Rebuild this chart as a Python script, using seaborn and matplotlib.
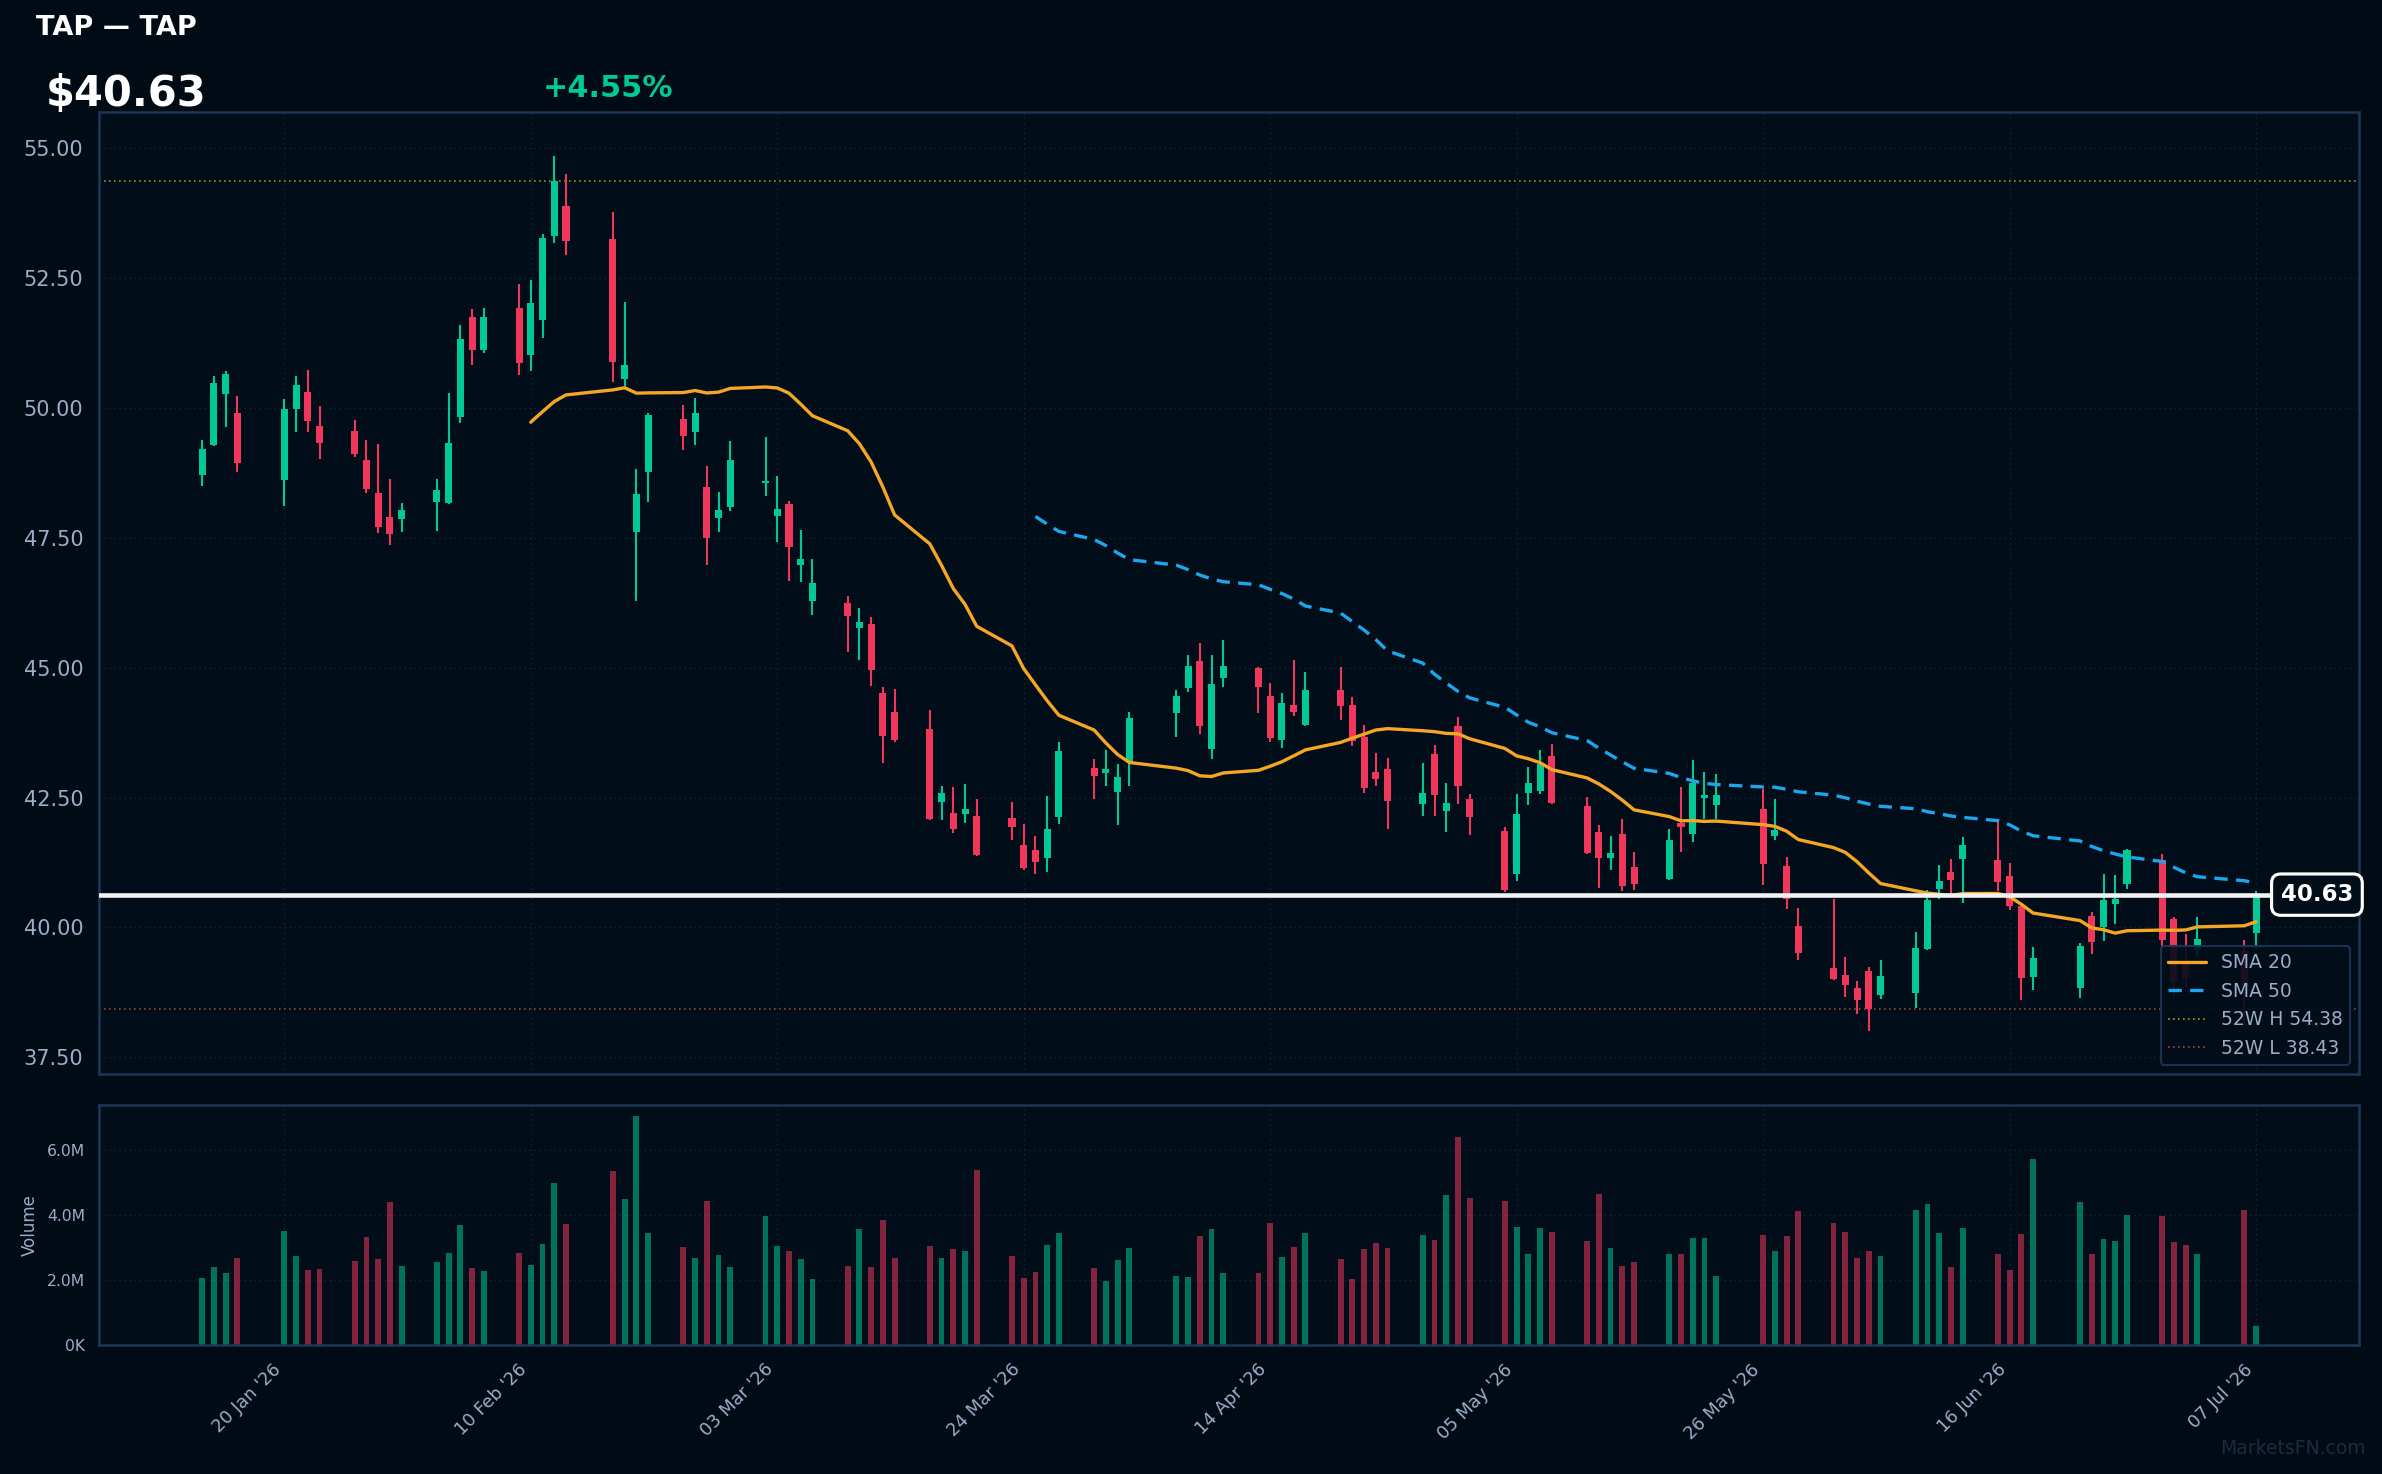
import numpy as np
import pandas as pd
import matplotlib
matplotlib.use('Agg')
import matplotlib.pyplot as plt
import matplotlib.dates as mdates
from matplotlib.lines import Line2D
from matplotlib.ticker import FuncFormatter, MultipleLocator
import seaborn as sns

# trading days (NYSE calendar, holidays skipped)
holidays = ['2026-01-19', '2026-02-16', '2026-04-03', '2026-05-25', '2026-06-19', '2026-07-03']
dates = pd.bdate_range('2026-01-13', '2026-07-07', freq='C', holidays=holidays)

opens = [48.72, 49.29, 50.27, 49.90, 48.62, 49.99, 50.30, 49.65, 49.55, 49.00,
         48.37, 47.90, 47.86, 48.20, 48.18, 49.83, 51.76, 51.12, 51.92, 51.03,
         51.69, 53.32, 53.89, 53.26, 50.56, 47.61, 48.76, 49.78, 49.53, 48.48,
         47.89, 48.10, 48.55, 47.93, 48.15, 46.97, 46.28, 46.24, 45.77, 45.84,
         44.51, 44.15, 43.82, 42.41, 42.21, 42.18, 42.14, 42.11, 41.58, 41.48,
         41.33, 42.12, 43.07, 42.98, 42.60, 43.19, 44.13, 44.61, 45.12, 43.44,
         44.80, 45.00, 44.45, 43.61, 44.29, 43.90, 44.57, 44.28, 43.67, 42.99,
         43.05, 42.37, 43.34, 42.24, 43.88, 42.48, 41.86, 41.03, 42.58, 42.62,
         43.29, 42.33, 41.83, 41.34, 41.79, 41.16, 40.93, 42.01, 41.80, 42.50,
         42.36, 42.28, 41.76, 41.18, 40.02, 39.22, 39.08, 38.83, 39.15, 38.69,
         38.74, 39.59, 40.74, 41.06, 41.32, 41.30, 40.98, 40.41, 39.05, 38.83,
         40.22, 40.01, 40.44, 40.84, 41.30, 40.17, 39.28, 39.56, 39.55, 39.90]
highs = [49.38, 50.61, 50.71, 50.23, 50.17, 50.61, 50.73, 50.03, 49.77, 49.38,
         49.31, 48.64, 48.18, 48.64, 50.29, 51.59, 51.90, 51.92, 52.38, 52.47,
         53.35, 54.85, 54.50, 53.77, 52.04, 48.83, 49.90, 50.05, 50.19, 48.88,
         48.38, 49.36, 49.44, 48.69, 48.21, 47.66, 47.10, 46.39, 46.14, 45.97,
         44.63, 44.59, 44.18, 42.73, 42.71, 42.76, 42.47, 42.42, 41.99, 41.76,
         42.53, 43.57, 43.25, 43.42, 43.15, 44.14, 44.57, 45.24, 45.47, 45.24,
         45.54, 45.02, 44.70, 44.51, 45.14, 44.91, 45.02, 44.43, 43.90, 43.36,
         43.26, 43.17, 43.51, 42.78, 44.05, 42.57, 41.94, 42.57, 43.09, 43.42,
         43.53, 42.51, 41.97, 41.76, 42.08, 41.46, 41.89, 42.70, 43.22, 43.00,
         42.96, 42.66, 42.47, 41.35, 40.37, 40.54, 39.43, 38.97, 39.23, 39.37,
         39.91, 40.71, 41.20, 41.31, 41.74, 42.04, 41.23, 40.42, 39.63, 39.69,
         40.30, 41.03, 41.01, 41.51, 41.41, 40.19, 39.87, 40.19, 39.75, 40.70]
lows = [48.50, 49.27, 49.64, 48.76, 48.12, 49.54, 49.53, 49.01, 49.05, 48.36,
        47.59, 47.36, 47.62, 47.64, 48.16, 49.72, 50.83, 51.06, 50.63, 50.71,
        51.34, 53.18, 52.94, 50.50, 50.43, 46.28, 48.20, 49.20, 49.29, 46.97,
        47.62, 48.02, 48.31, 47.43, 46.66, 46.65, 46.01, 45.31, 45.15, 44.64,
        43.16, 43.56, 42.06, 42.06, 41.82, 42.01, 41.38, 41.68, 41.10, 41.03,
        41.07, 41.99, 42.47, 42.73, 41.98, 42.73, 43.67, 44.53, 43.72, 43.24,
        44.63, 44.13, 43.57, 43.46, 44.07, 43.88, 43.99, 43.50, 42.59, 42.73,
        41.89, 42.14, 42.14, 41.83, 42.37, 41.78, 40.69, 40.89, 42.35, 42.56,
        42.37, 41.42, 40.75, 41.11, 40.70, 40.72, 40.92, 41.46, 41.65, 42.08,
        42.09, 40.82, 41.69, 40.36, 39.38, 38.99, 38.66, 38.33, 38.01, 38.62,
        38.45, 39.57, 40.54, 40.64, 40.47, 40.70, 40.33, 38.60, 38.79, 38.64,
        39.48, 39.73, 40.06, 40.73, 39.55, 38.65, 38.85, 39.42, 38.10, 39.60]
closes = [49.21, 50.49, 50.65, 48.95, 49.99, 50.44, 49.75, 49.33, 49.12, 48.45,
          47.71, 47.57, 48.04, 48.42, 49.33, 51.32, 51.12, 51.76, 50.87, 52.03,
          53.27, 54.38, 53.21, 50.88, 50.82, 48.35, 49.86, 49.46, 49.90, 47.50,
          48.04, 49.00, 48.59, 48.05, 47.32, 47.10, 46.64, 45.99, 45.88, 44.95,
          43.68, 43.60, 42.08, 42.59, 41.89, 42.28, 41.39, 41.93, 41.15, 41.26,
          41.90, 43.40, 42.91, 43.05, 42.90, 44.03, 44.45, 45.04, 43.88, 44.68,
          45.04, 44.63, 43.65, 44.32, 44.15, 44.58, 44.27, 43.58, 42.69, 42.85,
          42.43, 42.59, 42.54, 42.40, 42.73, 42.12, 40.72, 42.19, 42.77, 43.14,
          42.39, 41.43, 41.34, 41.43, 40.80, 40.84, 41.68, 41.94, 42.78, 42.54,
          42.55, 41.22, 41.87, 40.55, 39.51, 39.01, 38.89, 38.61, 38.43, 39.06,
          39.60, 40.53, 40.90, 40.92, 41.58, 40.88, 40.42, 39.03, 39.40, 39.65,
          39.71, 40.53, 40.55, 41.48, 39.75, 38.94, 39.03, 39.78, 38.86, 40.63]
# volume in millions of shares
volumes = [2.05, 2.39, 2.21, 2.67, 3.50, 2.73, 2.30, 2.33, 2.57, 3.31,
           2.64, 4.39, 2.42, 2.54, 2.82, 3.68, 2.36, 2.27, 2.82, 2.45,
           3.10, 4.97, 3.71, 5.34, 4.48, 7.04, 3.44, 3.01, 2.67, 4.42,
           2.76, 2.39, 3.96, 3.04, 2.88, 2.64, 2.02, 2.42, 3.56, 2.39,
           3.84, 2.67, 3.04, 2.67, 2.94, 2.88, 5.37, 2.73, 2.05, 2.24,
           3.07, 3.44, 2.36, 1.96, 2.61, 2.97, 2.11, 2.08, 3.34, 3.56,
           2.21, 2.21, 3.74, 2.70, 3.01, 3.44, 2.64, 2.02, 2.94, 3.13,
           2.97, 3.37, 3.22, 4.61, 6.39, 4.51, 4.42, 3.62, 2.79, 3.59,
           3.47, 3.19, 4.64, 2.97, 2.42, 2.54, 2.79, 2.79, 3.28, 3.28,
           2.11, 3.37, 2.88, 3.34, 4.11, 3.74, 3.47, 2.67, 2.88, 2.73,
           4.14, 4.33, 3.44, 2.39, 3.59, 2.79, 2.30, 3.41, 5.71, 4.39,
           2.79, 3.25, 3.19, 3.99, 3.96, 3.16, 3.07, 2.79, 4.14, 0.57]

tick_dates = ['2026-01-20', '2026-02-10', '2026-03-03', '2026-03-24', '2026-04-14',
              '2026-05-05', '2026-05-26', '2026-06-16', '2026-07-07']
ticker = 'TAP'
last_price = 40.63
day_change = 4.55
high_52w = 54.38
low_52w = 38.43

df = pd.DataFrame({'date': dates, 'open': opens, 'high': highs, 'low': lows,
                   'close': closes, 'volume': np.array(volumes) * 1e6})
df['sma20'] = df['close'].rolling(20).mean()
df['sma50'] = df['close'].rolling(50).mean()

# colours
BG = '#010b16'
PANEL = '#020d1a'
EDGE = '#1d3656'
GRID = '#1a2838'
TXT = '#9aaec6'
UP = '#00c896'
DOWN = '#f0365a'

sns.set_theme(style='dark')
plt.rcParams['font.family'] = ['DejaVu Sans']

fig = plt.figure(figsize=(2382 / 150, 1474 / 150), dpi=150, facecolor=BG)
ax = fig.add_axes([0.0415, 0.2711, 0.9490, 0.6526], facecolor=PANEL)
axv = fig.add_axes([0.0415, 0.0876, 0.9490, 0.1629], facecolor=PANEL, sharex=ax)

up = df['close'] >= df['open']
cols = np.where(up, UP, DOWN)

# candles
ax.vlines(df['date'], df['low'], df['high'], colors=cols, lw=1.0, zorder=2)
ax.bar(df['date'], (df['close'] - df['open']).abs().clip(lower=0.03),
       bottom=df[['open', 'close']].min(axis=1), width=0.6, color=cols,
       edgecolor='none', linewidth=0, zorder=3)

# moving averages
sns.lineplot(x=df['date'], y=df['sma20'], ax=ax, color='#f5a623', lw=1.6, zorder=4)
sns.lineplot(x=df['date'], y=df['sma50'], ax=ax, color='#1aa7ec', lw=1.6,
             linestyle=(0, (4, 2.5)), zorder=4)

# reference lines
ax.axhline(high_52w, color='#a89a2c', lw=0.8, ls=(0, (1, 2)), alpha=0.9, zorder=1)
ax.axhline(low_52w, color='#b0472f', lw=0.8, ls=(0, (1, 2)), alpha=0.9, zorder=1)
ax.axhline(last_price, color='#f2f2f2', lw=2.2, zorder=5)
ax.annotate(f'{last_price:.2f}', xy=(1, last_price), xycoords=('axes fraction', 'data'),
            xytext=(-3, 0), textcoords='offset points', ha='right', va='center',
            fontsize=11, fontweight='bold', color='white', zorder=7,
            bbox=dict(boxstyle='round,pad=0.4', fc=PANEL, ec='white', lw=1.5))

ax.yaxis.set_major_locator(MultipleLocator(2.5))
ax.yaxis.set_major_formatter(FuncFormatter(lambda v, p: f'{v:.2f}'))
ax.set_ylabel('')
ax.set_xlabel('')
ax.tick_params(axis='y', colors=TXT, labelsize=10, length=4, color=EDGE)
ax.tick_params(axis='x', labelbottom=False, length=0)
ax.grid(True, color=GRID, lw=0.6, ls=(0, (1, 3)))

handles = [Line2D([], [], color='#f5a623', lw=1.6),
           Line2D([], [], color='#1aa7ec', lw=1.6, ls=(0, (4, 2.5))),
           Line2D([], [], color='#a89a2c', lw=0.8, ls=(0, (1, 2))),
           Line2D([], [], color='#b0472f', lw=0.8, ls=(0, (1, 2)))]
labels = ['SMA 20', 'SMA 50', f'52W H {high_52w:.2f}', f'52W L {low_52w:.2f}']
leg = ax.legend(handles, labels, loc='lower right', fontsize=9, facecolor=PANEL,
                edgecolor=EDGE, framealpha=0.9, labelcolor=TXT)
leg.set_zorder(8)

# volume
axv.bar(df['date'], df['volume'], width=0.5, color=cols, alpha=0.55,
        edgecolor='none', linewidth=0)
axv.yaxis.set_major_locator(MultipleLocator(2e6))
axv.yaxis.set_major_formatter(FuncFormatter(
    lambda v, p: f'{v / 1e6:.1f}M' if v >= 1e6 else f'{v / 1e3:.0f}K'))
axv.set_ylabel('Volume', color=TXT, fontsize=8)
axv.tick_params(axis='y', colors=TXT, labelsize=7.5, length=3, color=EDGE)
axv.tick_params(axis='x', colors=TXT, labelsize=8.5, length=4)
axv.grid(True, color=GRID, lw=0.6, ls=(0, (1, 3)))

axv.set_xticks(pd.to_datetime(tick_dates))
axv.xaxis.set_major_formatter(mdates.DateFormatter("%d %b '%y"))
plt.setp(axv.get_xticklabels(), rotation=45, ha='right')
axv.set_xlim(df['date'].iloc[0] - pd.Timedelta(days=8.8),
             df['date'].iloc[-1] + pd.Timedelta(days=8.8))
axv.set_xlabel('')

for a in (ax, axv):
    for s in a.spines.values():
        s.set_color(EDGE)
        s.set_linewidth(1.2)

# header texts
fig.text(0.0153, 0.981, f'{ticker} — {ticker}', color='white', fontsize=13,
         fontweight='bold', va='center', ha='left')
fig.text(0.019, 0.936, f'${last_price:.2f}', color='white', fontsize=20,
         fontweight='bold', va='center', ha='left')
fig.text(0.228, 0.940, f'+{day_change:.2f}%', color=UP, fontsize=14.5,
         fontweight='bold', va='center', ha='left')
fig.text(0.993, 0.0175, 'MarketsFN.com', color='#1b2b3e', fontsize=9,
         va='center', ha='right')

fig.savefig('out.png', dpi=150, facecolor=BG)
